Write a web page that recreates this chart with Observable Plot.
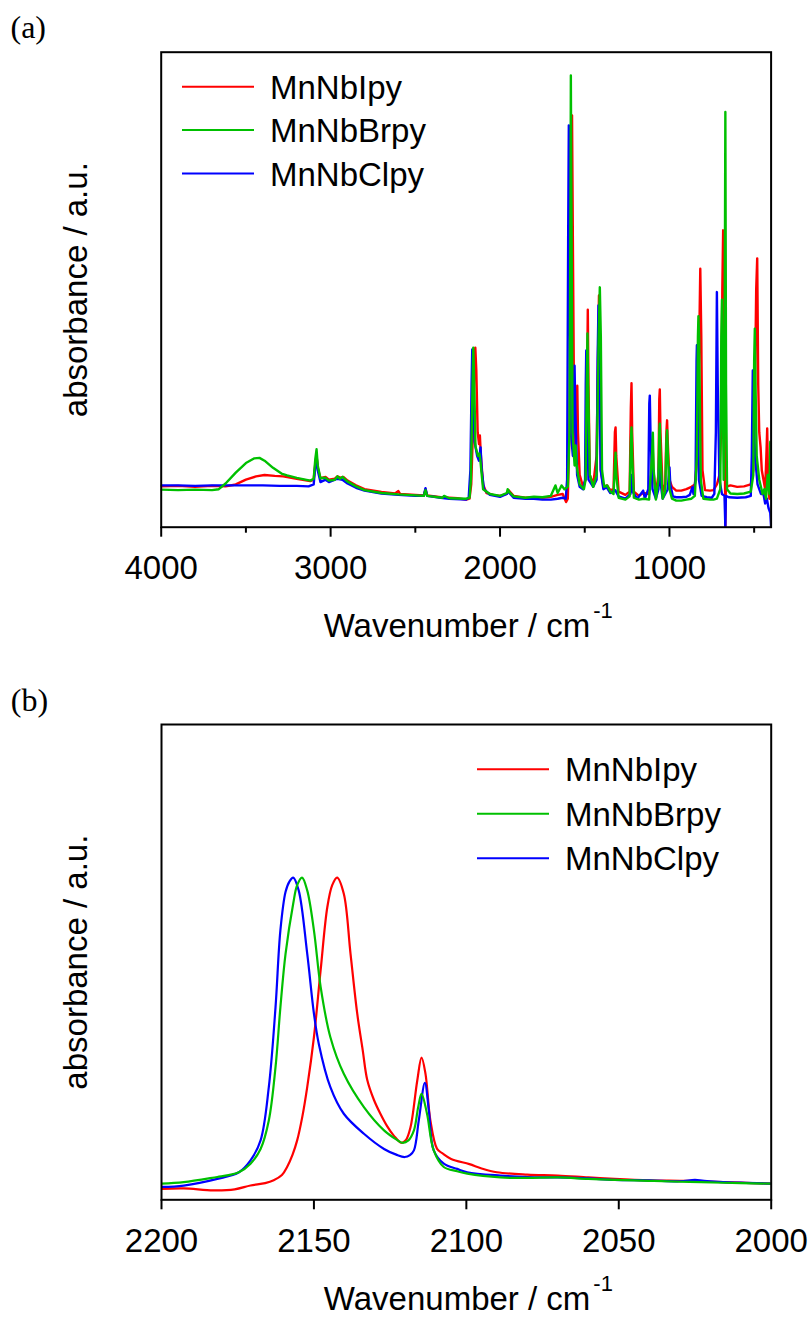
<!DOCTYPE html>
<html>
<head>
<meta charset="utf-8">
<script src="https://cdn.jsdelivr.net/npm/d3@7"></script>
<script src="https://cdn.jsdelivr.net/npm/@observablehq/plot@0.6"></script>
<style>
  body { margin: 0; background: #fff; }
  #chart { width: 812px; }
  #chart svg { display: block; }
</style>
</head>
<body>
<div id="chart"></div>
<script>
// Sample names and their line colours
const seriesNames = ["MnNbIpy", "MnNbBrpy", "MnNbClpy"];
const seriesColors = ["#ff0000", "#00c000", "#0000ff"];

// (a) Full IR spectra: [wavenumber / cm-1, absorbance / a.u.]
const fullIpy = [
  [4000,0.086],[3900,0.087],[3800,0.085],[3700,0.087],[3620,0.086],[3560,0.090],[3500,0.100],[3440,0.107],
  [3390,0.110],[3330,0.108],[3280,0.107],[3200,0.102],[3120,0.097],[3100,0.100],[3090,0.135],[3083,0.150],
  [3076,0.125],[3060,0.103],[3030,0.106],[3010,0.100],[2975,0.102],[2960,0.107],[2940,0.104],[2925,0.106],
  [2900,0.098],[2850,0.088],[2800,0.080],[2700,0.074],[2620,0.071],[2600,0.076],[2590,0.070],[2500,0.068],
  [2450,0.067],[2440,0.080],[2430,0.067],[2350,0.063],[2300,0.062],[2250,0.061],[2200,0.058],[2180,0.060],
  [2170,0.090],[2160,0.200],[2152,0.330],[2146,0.378],[2140,0.330],[2132,0.200],[2124,0.175],[2119,0.193],
  [2113,0.150],[2100,0.090],[2080,0.072],[2040,0.068],[2000,0.066],[1960,0.070],[1950,0.078],[1940,0.074],
  [1920,0.066],[1850,0.062],[1800,0.063],[1750,0.062],[1700,0.064],[1660,0.068],[1630,0.070],[1610,0.053],
  [1600,0.060],[1590,0.200],[1580,0.600],[1575,0.867],[1570,0.600],[1562,0.200],[1556,0.150],[1548,0.250],
  [1544,0.298],[1540,0.200],[1530,0.110],[1510,0.085],[1495,0.100],[1486,0.300],[1482,0.458],[1478,0.300],
  [1470,0.110],[1450,0.090],[1430,0.150],[1420,0.400],[1416,0.488],[1412,0.400],[1405,0.120],[1390,0.085],
  [1368,0.088],[1350,0.078],[1330,0.080],[1322,0.200],[1318,0.210],[1314,0.150],[1300,0.075],[1260,0.068],
  [1235,0.075],[1228,0.250],[1224,0.303],[1220,0.200],[1210,0.075],[1180,0.066],[1155,0.072],[1120,0.070],
  [1105,0.120],[1100,0.183],[1095,0.120],[1080,0.072],[1065,0.110],[1060,0.270],[1057,0.290],[1053,0.200],
  [1040,0.075],[1025,0.090],[1018,0.200],[1014,0.225],[1010,0.180],[1000,0.100],[985,0.085],[960,0.077],
  [930,0.077],[900,0.080],[870,0.085],[850,0.090],[835,0.150],[824,0.400],[818,0.544],[812,0.400],
  [805,0.120],[790,0.078],[760,0.077],[740,0.078],[720,0.090],[705,0.110],[695,0.200],[688,0.500],
  [683,0.625],[678,0.400],[672,0.100],[670,0.000],[667,0.090],[660,0.086],[640,0.088],[600,0.085],
  [560,0.086],[520,0.090],[505,0.120],[495,0.300],[488,0.500],[482,0.566],[476,0.300],[470,0.200],
  [462,0.168],[455,0.120],[445,0.100],[435,0.080],[428,0.150],[423,0.208],[418,0.100],[410,0.060],
  [405,0.120],[400,0.090]
];
const fullBrpy = [
  [4000,0.079],[3900,0.078],[3800,0.079],[3700,0.078],[3660,0.080],[3620,0.092],[3560,0.115],[3500,0.135],
  [3450,0.145],[3420,0.146],[3390,0.140],[3340,0.125],[3290,0.113],[3257,0.109],[3200,0.104],[3120,0.098],
  [3100,0.102],[3090,0.145],[3083,0.164],[3076,0.130],[3060,0.103],[3030,0.104],[3010,0.098],[2975,0.100],
  [2960,0.107],[2945,0.102],[2930,0.106],[2900,0.096],[2850,0.086],[2800,0.078],[2700,0.072],[2600,0.069],
  [2500,0.067],[2450,0.066],[2440,0.078],[2430,0.066],[2340,0.062],[2330,0.066],[2300,0.061],[2200,0.060],
  [2180,0.062],[2172,0.100],[2165,0.250],[2158,0.378],[2152,0.300],[2145,0.170],[2130,0.150],[2122,0.155],
  [2116,0.140],[2100,0.080],[2060,0.070],[2000,0.066],[1960,0.072],[1955,0.080],[1945,0.074],[1920,0.065],
  [1850,0.062],[1800,0.064],[1750,0.063],[1700,0.066],[1673,0.088],[1660,0.072],[1645,0.082],[1637,0.088],
  [1620,0.080],[1600,0.085],[1590,0.200],[1584,0.700],[1582,0.951],[1579,0.700],[1572,0.200],[1560,0.130],
  [1554,0.172],[1548,0.130],[1530,0.090],[1505,0.080],[1495,0.100],[1488,0.300],[1484,0.408],[1480,0.300],
  [1470,0.110],[1450,0.085],[1430,0.110],[1418,0.400],[1411,0.505],[1405,0.400],[1398,0.120],[1385,0.085],
  [1368,0.088],[1350,0.075],[1330,0.070],[1322,0.130],[1318,0.157],[1314,0.110],[1300,0.062],[1260,0.058],
  [1235,0.065],[1228,0.180],[1224,0.210],[1220,0.150],[1210,0.062],[1180,0.058],[1150,0.060],[1120,0.058],
  [1103,0.150],[1098,0.199],[1093,0.120],[1080,0.058],[1065,0.100],[1060,0.200],[1057,0.218],[1053,0.150],
  [1040,0.060],[1025,0.075],[1018,0.180],[1014,0.204],[1010,0.160],[1000,0.080],[985,0.060],[960,0.056],
  [930,0.056],[900,0.058],[870,0.060],[850,0.066],[838,0.150],[832,0.400],[829,0.444],[825,0.400],
  [815,0.100],[800,0.060],[760,0.058],[740,0.058],[720,0.060],[700,0.080],[694,0.400],[690,0.479],
  [686,0.300],[680,0.100],[675,0.300],[670,0.874],[666,0.300],[660,0.080],[640,0.071],[600,0.070],
  [560,0.071],[520,0.075],[505,0.110],[500,0.350],[496,0.418],[492,0.300],[485,0.150],[470,0.100],
  [460,0.085],[450,0.070],[440,0.080],[430,0.060],[420,0.110],[410,0.070],[405,0.180],[400,0.060]
];
const fullClpy = [
  [4000,0.088],[3900,0.088],[3800,0.087],[3700,0.088],[3600,0.088],[3500,0.088],[3400,0.088],[3300,0.087],
  [3200,0.087],[3130,0.086],[3100,0.090],[3090,0.130],[3083,0.150],[3076,0.120],[3060,0.095],[3030,0.100],
  [3010,0.095],[2960,0.102],[2930,0.100],[2900,0.092],[2850,0.083],[2800,0.077],[2700,0.071],[2600,0.068],
  [2500,0.066],[2450,0.066],[2440,0.082],[2430,0.066],[2350,0.062],[2300,0.060],[2200,0.058],[2185,0.062],
  [2175,0.120],[2168,0.300],[2164,0.374],[2158,0.300],[2150,0.180],[2135,0.150],[2124,0.140],[2115,0.168],
  [2108,0.120],[2095,0.080],[2060,0.068],[2000,0.064],[1960,0.070],[1952,0.077],[1945,0.072],[1920,0.062],
  [1850,0.060],[1800,0.060],[1750,0.058],[1700,0.058],[1660,0.060],[1630,0.062],[1612,0.060],[1604,0.100],
  [1598,0.600],[1594,0.846],[1590,0.600],[1582,0.200],[1570,0.150],[1563,0.300],[1560,0.340],[1556,0.250],
  [1545,0.110],[1530,0.085],[1510,0.080],[1498,0.100],[1494,0.300],[1491,0.372],[1487,0.250],[1478,0.100],
  [1450,0.085],[1430,0.100],[1424,0.350],[1419,0.467],[1414,0.350],[1406,0.120],[1390,0.080],[1370,0.084],
  [1350,0.072],[1320,0.078],[1300,0.065],[1260,0.060],[1230,0.070],[1224,0.110],[1218,0.075],[1190,0.060],
  [1155,0.077],[1145,0.060],[1125,0.080],[1119,0.260],[1116,0.277],[1112,0.200],[1100,0.080],[1080,0.060],
  [1065,0.080],[1060,0.161],[1055,0.100],[1040,0.060],[1010,0.080],[1000,0.126],[995,0.090],[980,0.065],
  [960,0.063],[930,0.063],[900,0.064],[880,0.068],[865,0.084],[858,0.070],[846,0.100],[840,0.350],
  [838,0.383],[834,0.300],[826,0.100],[810,0.066],[780,0.063],[750,0.062],[735,0.070],[726,0.200],
  [720,0.495],[715,0.300],[705,0.100],[690,0.070],[675,0.066],[670,0.000],[667,0.066],[650,0.063],
  [600,0.062],[550,0.063],[520,0.066],[514,0.150],[508,0.330],[503,0.250],[495,0.150],[480,0.090],
  [460,0.070],[445,0.070],[435,0.050],[425,0.060],[415,0.040],[405,0.030],[400,0.000]
];

// (b) Cyanide stretching region: [wavenumber / cm-1, absorbance / a.u.]
const zoomIpy = [
  [2200,0.023],[2192.7,0.024],[2183,0.020],[2176,0.022],[2170.8,0.030],[2166,0.035],[2163.2,0.041],
  [2160.5,0.052],[2158.8,0.069],[2157,0.095],[2155.5,0.125],[2153.8,0.175],[2152.2,0.237],[2150,0.342],
  [2147.8,0.483],[2145.6,0.616],[2144,0.662],[2142.4,0.678],[2140.2,0.644],[2138,0.518],[2135.8,0.392],
  [2134,0.315],[2132.5,0.252],[2130.3,0.210],[2128.2,0.181],[2126,0.155],[2123.8,0.135],[2121.3,0.120],
  [2119.8,0.126],[2118.3,0.153],[2116.1,0.251],[2114.7,0.299],[2113.4,0.265],[2111.8,0.167],[2109.6,0.107],
  [2107.9,0.098],[2105,0.086],[2099,0.075],[2095,0.066],[2090,0.058],[2080,0.053],[2070,0.051],
  [2060,0.047],[2051.4,0.044],[2040,0.041],[2030,0.040],[2023,0.039],[2010,0.036],[2000,0.034]
];
const zoomBrpy = [
  [2200,0.034],[2192.7,0.037],[2181.7,0.048],[2178,0.052],[2174.6,0.058],[2170.8,0.076],[2167.5,0.107],
  [2164.8,0.167],[2162.6,0.279],[2161,0.405],[2159.3,0.518],[2156.8,0.623],[2155.5,0.662],[2153.9,0.678],
  [2152.2,0.651],[2150,0.567],[2147.8,0.448],[2144.6,0.342],[2140.2,0.265],[2133.6,0.195],[2127,0.146],
  [2123,0.127],[2121,0.120],[2119,0.125],[2117.2,0.146],[2115.8,0.195],[2114.7,0.223],[2112.9,0.181],
  [2110.7,0.104],[2107.4,0.069],[2103,0.060],[2099.7,0.055],[2088.8,0.047],[2080,0.046],[2070,0.047],
  [2060,0.044],[2051.4,0.042],[2040,0.040],[2030,0.038],[2023,0.037],[2010,0.035],[2000,0.034]
];
const zoomClpy = [
  [2200,0.027],[2192.7,0.030],[2181.7,0.044],[2174.6,0.058],[2170.8,0.083],[2167.5,0.125],[2164.8,0.237],
  [2162.6,0.405],[2161,0.567],[2159.3,0.648],[2158,0.670],[2156.8,0.678],[2155,0.651],[2152.2,0.518],
  [2150,0.392],[2148.4,0.328],[2144.6,0.237],[2140.2,0.181],[2133.6,0.139],[2127,0.107],[2123,0.095],
  [2120.2,0.090],[2118.5,0.094],[2117.2,0.104],[2115.6,0.167],[2113.6,0.246],[2112.3,0.188],[2110.7,0.104],
  [2107.4,0.076],[2103,0.065],[2099.7,0.058],[2088.8,0.051],[2080,0.048],[2070,0.047],[2060,0.045],
  [2051.4,0.042],[2040,0.041],[2030,0.039],[2025,0.042],[2022,0.040],[2010,0.036],[2000,0.034]
];

// Axis ticks
const fullTicks = [4000, 3000, 2000, 1000];
const fullMinorTicks = [3500, 2500, 1500, 500];
const zoomTicks = [2200, 2150, 2100, 2050, 2000];

const SANS = "'Liberation Sans', Arial, Helvetica, sans-serif";
const SERIF = "'Liberation Serif', 'Times New Roman', serif";
const FS = 33;

function panel({tag, series, xDomain, ticks, minorTicks, margin, curve, lineWidth, legend}) {
  const W = 812, H = 660;
  // drawing order: Ipy, Clpy, then Brpy on top
  const lines = [0, 2, 1].map(i => Plot.line(series[i], {
    x: d => d[0], y: d => d[1], stroke: seriesColors[i], strokeWidth: lineWidth, curve, clip: true
  }));
  const plot = Plot.plot({
    width: W, height: H,
    marginTop: margin.top, marginBottom: H - margin.bottom,
    marginLeft: margin.left, marginRight: W - margin.right,
    style: {fontFamily: SANS, fontSize: FS + "px", background: "#fff", color: "#000", overflow: "visible"},
    x: {domain: xDomain},
    y: {domain: [0, 1], axis: null},
    marks: [
      ...lines,
      Plot.frame({stroke: "#000", strokeWidth: 2}),
      Plot.axisX({ticks, tickSize: 10, tickPadding: 18.5, fontSize: FS, strokeWidth: 2, label: null, tickFormat: d => String(d)}),
      ...(minorTicks ? [Plot.axisX({ticks: minorTicks, tickSize: 6, strokeWidth: 2, label: null, tickFormat: () => ""})] : []),
      // panel tag
      Plot.text([tag], {text: d => d, frameAnchor: "top-left", textAnchor: "start", lineAnchor: "bottom",
        dx: -150.7, dy: -14, fontSize: 32, fontFamily: SERIF}),
      // y axis title
      Plot.text(["absorbance / a.u."], {text: d => d, frameAnchor: "left", rotate: -90, textAnchor: "middle",
        lineAnchor: "bottom", dx: -74.3, fontSize: FS}),
      // x axis title with superscript
      Plot.text(["Wavenumber / cm"], {text: d => d, frameAnchor: "bottom", textAnchor: "end", lineAnchor: "bottom",
        dx: 124, dy: 110, fontSize: FS}),
      Plot.text(["-1"], {text: d => d, frameAnchor: "bottom", textAnchor: "start", lineAnchor: "bottom",
        dx: 127, dy: 91, fontSize: 22})
    ]
  });
  // legend: coloured line sample followed by the sample name
  const g = d3.select(plot).append("g")
    .attr("font-family", SANS).attr("font-size", FS).attr("text-anchor", "start");
  seriesNames.forEach((name, i) => {
    const y = legend.y + i * legend.gap;
    g.append("line").attr("x1", legend.x).attr("x2", legend.x + 72).attr("y1", y).attr("y2", y)
      .attr("stroke", seriesColors[i]).attr("stroke-width", 2);
    g.append("text").attr("x", legend.x + 88).attr("y", y + 12).attr("fill", "#000").text(name);
  });
  return plot;
}

const chart = document.getElementById("chart");
chart.append(panel({
  tag: "(a)",
  series: [fullIpy, fullBrpy, fullClpy],
  xDomain: [4000, 400],
  ticks: fullTicks, minorTicks: fullMinorTicks,
  margin: {top: 51.7, bottom: 526.7, left: 160.7, right: 770.6},
  curve: "linear", lineWidth: 2.4,
  legend: {x: 182, y: 86.7, gap: 43.4}
}));
chart.append(panel({
  tag: "(b)",
  series: [zoomIpy, zoomBrpy, zoomClpy],
  xDomain: [2200, 2000],
  ticks: zoomTicks, minorTicks: null,
  margin: {top: 64, bottom: 539.3, left: 161, right: 770.7},
  curve: "catmull-rom", lineWidth: 2.2,
  legend: {x: 477, y: 109.3, gap: 44.5}
}));
</script>
</body>
</html>
